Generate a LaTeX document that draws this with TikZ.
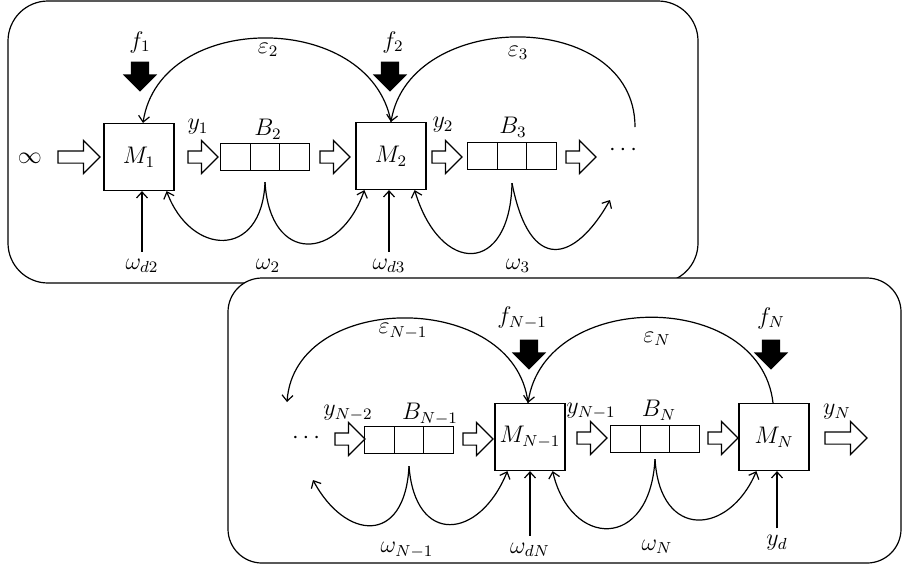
\documentclass[tikz,border=0pt]{standalone}
\usepackage{amsmath}
\usepackage{amssymb}
\usepackage{tikz}
\usetikzlibrary{arrows.meta, calc, shapes.arrows}
\tikzset{
  mach/.style  = {draw, rectangle, minimum width=35pt, minimum height=33.5pt, inner sep=0pt},
  buf/.style   = {draw, rectangle, minimum width=44.5pt, minimum height=13.5pt, inner sep=0pt,
                  path picture={\foreach \k in {1,2}
                    \draw ($(path picture bounding box.south west)!\k/3!(path picture bounding box.south east)$)
                       -- ($(path picture bounding box.north west)!\k/3!(path picture bounding box.north east)$);}},
  hol/.style   = {draw, single arrow, single arrow head extend=5.25pt, inner sep=0pt,
                  inner ysep=2.75pt, minimum width=16pt, minimum height=#1},
  hol/.default = 15pt,
  feed/.style  = {fill=black, single arrow, single arrow head extend=4pt, inner sep=0pt,
                  inner ysep=4.25pt, minimum width=16.5pt, minimum height=15pt, rotate=-90},
  ar/.style    = {-{Straight Barb[length=3pt,width=5.5pt]}},
  panel/.style = {draw, rounded corners=#1},
}
\begin{document}
\begin{tikzpicture}[x=0.5pt, y=-0.5pt, line width=0.6pt, every node/.style={font=\large}]
  \useasboundingbox (0,0) rectangle (903,569);
  % first stages
  \draw[panel=20pt] (8,1) rectangle (698,283);
  \node (inf) at (30,158) {$\infty$};
  \node[hol=21pt] (h0) at (76,157) {};
  \node[mach] (M1) at (139,157) {$M_1$};
  \node[hol] (h1) at (200,157) {};
  \node[buf] (B2) at (265,157) {};
  \node[hol] (h2) at (332,157) {};
  \node[mach] (M2) at (391,156) {$M_2$};
  \node[hol] (h3) at (444,157) {};
  \node[buf] (B3) at (512,156) {};
  \node[hol] (h4) at (578,157) {};
  \node (dotsA) at (625,150) {$\cdots$};
  \node[feed] (F1) at (140,72) {};
  \node[feed] (F2) at (390,72) {};
  \node (lf1) at (140,42) {$f_1$};
  \node (lf2) at (393,42) {$f_2$};
  \node (le2) at (268,50) {$\varepsilon_2$};
  \node (le3) at (518,53) {$\varepsilon_3$};
  \node (ly1) at (198,127) {$y_1$};
  \node (ly2) at (443,125) {$y_2$};
  \node (lB2) at (268,129) {$B_2$};
  \node (lB3) at (513,127) {$B_3$};
  \node (lwd2) at (142,266) {$\omega_{d2}$};
  \node (lw2) at (268,266) {$\omega_2$};
  \node (lwd3) at (389,266) {$\omega_{d3}$};
  \node (lw3) at (518,266) {$\omega_3$};
  \coordinate (e3) at (635,127);
  \coordinate (w2) at ($(B2.south)+(0,11)$);
  \coordinate (w3) at ($(B3.south)+(0,13)$);
  \coordinate (w3e) at (610,200);
  \draw[ar] (M2.north) .. controls (370,10) and (160,10) .. ([xshift=2pt]M1.north);
  \draw[ar] (e3) .. controls (635,8) and (410,8) .. (M2.north);
  \draw[ar] (w2) .. controls +(-3,78) and +(24,65) .. ([xshift=-4pt]M1.south east);
  \draw[ar] (w2) .. controls +(5,83) and +(-25,71) .. ([xshift=4.5pt]M2.south west);
  \draw[ar] (w3) .. controls +(-2,92) and +(26,86) .. ([xshift=-6pt]M2.south east);
  \draw[ar] (w3) .. controls +(18,92) and +(-35,62) .. (w3e);
  \draw[ar] (lwd2.north) -- (lwd2.north |- M1.south);
  \draw[ar] (lwd3.north) -- (lwd3.north |- M2.south);
  % last stages
  \draw[panel=17pt, fill=white] (228,278) rectangle (901,563);
  \node (dotsB) at (308,438) {$\cdots$};
  \node[hol] (g1) at (347,439) {};
  \node[buf] (BN1) at (409,440) {};
  \node[hol] (g2) at (475,439) {};
  \node[mach] (MN1) at (530,437) {$M_{N-1}$};
  \node[hol] (g3) at (589,438) {};
  \node[buf] (BN) at (655,439) {};
  \node[hol] (g4) at (720,438) {};
  \node[mach] (MN) at (774,437) {$M_N$};
  \node[hol=21pt] (g5) at (843,438) {};
  \node[feed] (FN1) at (529,350) {};
  \node[feed] (FN) at (771,350) {};
  \node (lfN1) at (522,318) {$f_{N-1}$};
  \node (lfN) at (771,318) {$f_N$};
  \node (leN1) at (403,331) {$\varepsilon_{N-1}$};
  \node (leN) at (657,339) {$\varepsilon_N$};
  \node (lyN2) at (348,413) {$y_{N-2}$};
  \node (lBN1) at (430,414) {$B_{N-1}$};
  \node (lyN1) at (591,411) {$y_{N-1}$};
  \node (lBN) at (659,410) {$B_N$};
  \node (lyN) at (837,412) {$y_N$};
  \node (lwN1) at (407,550) {$\omega_{N-1}$};
  \node (lwdN) at (530,550) {$\omega_{dN}$};
  \node (lwN) at (657,547) {$\omega_N$};
  \node (lyd) at (777,543) {$y_d$};
  \coordinate (eN1e) at (287,402);
  \coordinate (wN1) at ($(BN1.south)+(0,12)$);
  \coordinate (wN1e) at (313,480);
  \coordinate (wN) at ($(BN.south)+(0,6)$);
  \draw[ar] ([xshift=-1pt]MN1.north) .. controls +(-13,-113) and +(8,-112) .. (eN1e);
  \draw[ar] ([xshift=-0.5pt]MN.north) .. controls +(-13,-114) and +(17,-114) .. ([xshift=-1pt]MN1.north);
  \draw[ar] (wN1) .. controls +(-4,80) and +(32,60) .. (wN1e);
  \draw[ar] (wN1) .. controls +(6,80) and +(-28,69) .. ([xshift=6.5pt]MN1.south west);
  \draw[ar] (wN) .. controls +(-5,92) and +(18,77) .. ([xshift=-6.5pt]MN1.south east);
  \draw[ar] (wN) .. controls +(5,82) and +(-27,64) .. ([xshift=9pt]MN.south west);
  \draw[ar] (lwdN.north) -- (lwdN.north |- MN1.south);
  \draw[ar] (lyd.north) -- (lyd.north |- MN.south);
\end{tikzpicture}
\end{document}
